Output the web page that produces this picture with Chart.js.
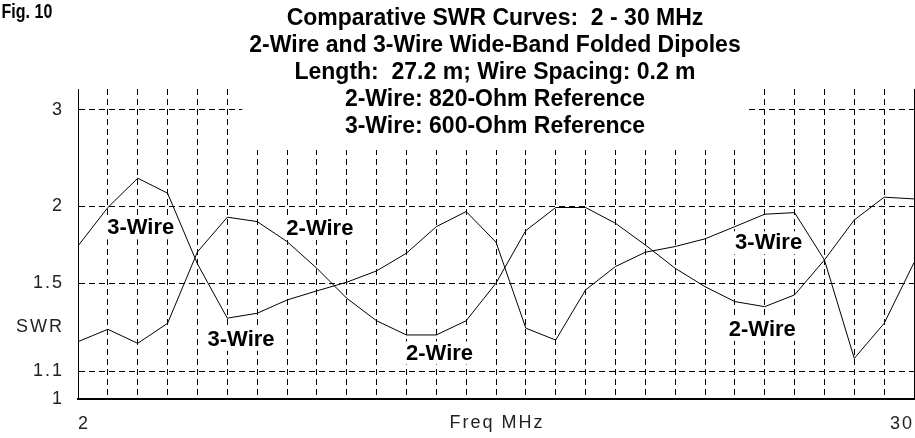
<!DOCTYPE html>
<html>
<head>
<meta charset="utf-8">
<script src="https://cdn.jsdelivr.net/npm/chart.js@4/dist/chart.umd.min.js"></script>
<style>
  html, body { margin: 0; padding: 0; background: #fff; }
  #wrap { width: 915px; height: 438px; position: relative; }
</style>
</head>
<body>
<div id="wrap"><canvas id="swrChart"></canvas></div>
<script>
// frequencies in MHz, one point per MHz
const freqs = [2, 3, 4, 5, 6, 7, 8, 9, 10, 11, 12, 13, 14, 15, 16, 17, 18, 19, 20, 21, 22, 23, 24, 25, 26, 27, 28, 29, 30];

const swr3Wire = [1.72, 1.99, 2.235, 2.105, 1.61, 1.325, 1.348, 1.413, 1.46, 1.506, 1.569, 1.674, 1.849, 1.959, 1.744,
  1.279, 1.227, 1.465, 1.594, 1.68, 1.716, 1.766, 1.849, 1.939, 1.951, 1.633, 1.151, 1.301, 1.617];

const swr2Wire = [1.22, 1.274, 1.213, 1.301, 1.682, 1.917, 1.885, 1.748, 1.584, 1.422, 1.313, 1.249, 1.249, 1.313, 1.501,
  1.822, 1.99, 1.99, 1.873, 1.726, 1.584, 1.482, 1.405, 1.38, 1.439, 1.633, 1.897, 2.072, 2.058];

const swrTicks = [1, 1.1, 1.5, 2, 3];
const freqTicks = [2, 30];

const titleLines = [
  "Comparative SWR Curves:  2 - 30 MHz",
  "2-Wire and 3-Wire Wide-Band Folded Dipoles",
  "Length:  27.2 m; Wire Spacing: 0.2 m",
  "2-Wire: 820-Ohm Reference",
  "3-Wire: 600-Ohm Reference",
];

// curve labels placed in data coordinates (MHz, SWR)
const labelTexts = ["3-Wire", "3-Wire", "2-Wire", "2-Wire", "3-Wire", "2-Wire"];
const labelFreqs = [4.1, 7.46, 10.1, 14.11, 25.13, 24.92];
const labelSwrs = [1.844, 1.232, 1.84, 1.175, 1.743, 1.276];

const FONT = "'Liberation Sans', Arial, sans-serif";

// the chart's vertical scale is linear in reflection coefficient
function toRho(s) {
  return (s - 1) / (s + 1);
}

function points(values) {
  return freqs.map((f, i) => ({ x: f, y: toRho(values[i]) }));
}

const overlay = {
  id: "overlay",
  beforeDraw(chart) {
    // the original axis text is spaced out a little
    chart.ctx.letterSpacing = "2px";
  },
  beforeDatasetsDraw(chart) {
    const { ctx, chartArea, scales } = chart;
    ctx.save();
    ctx.letterSpacing = "0px";

    // title block, its white box hides the grid behind it
    ctx.font = "bold 23px " + FONT;
    const maxW = Math.max(...titleLines.map((t) => ctx.measureText(t).width));
    const cx = (chartArea.left + chartArea.right) / 2 - 1;
    ctx.fillStyle = "#fff";
    ctx.fillRect(cx - maxW / 2 - 7, 0, maxW + 14, 150);
    ctx.fillStyle = "#000";
    ctx.textAlign = "center";
    ctx.textBaseline = "middle";
    titleLines.forEach((t, i) => ctx.fillText(t, cx, 19 + i * 27));

    // curve labels
    ctx.font = "bold 22px " + FONT;
    labelTexts.forEach((t, i) => {
      const px = scales.x.getPixelForValue(labelFreqs[i]);
      const py = scales.y.getPixelForValue(toRho(labelSwrs[i]));
      const w = ctx.measureText(t).width;
      ctx.fillStyle = "#fff";
      ctx.fillRect(px - w / 2 - 3, py - 11, w + 6, 23);
      ctx.fillStyle = "#000";
      ctx.fillText(t, px, py + 1);
    });

    // Fig. 10, narrow bold
    ctx.save();
    ctx.font = "bold 20px " + FONT;
    ctx.textAlign = "left";
    ctx.textBaseline = "top";
    ctx.scale(0.8, 1);
    ctx.fillText("Fig. 10", 2, 2);
    ctx.restore();

    // axis titles
    ctx.font = "18px " + FONT;
    ctx.letterSpacing = "2px";
    ctx.fillStyle = "#222";
    ctx.textBaseline = "middle";
    ctx.textAlign = "right";
    ctx.fillText("SWR", chartArea.left - 14, scales.y.getPixelForValue(toRho(1.285)));
    ctx.textAlign = "center";
    ctx.fillText("Freq MHz", (chartArea.left + chartArea.right) / 2 + 1, chartArea.bottom + 24);

    // solid right edge
    ctx.strokeStyle = "#000";
    ctx.lineWidth = 1;
    ctx.beginPath();
    ctx.moveTo(chartArea.right + 0.5, chartArea.top);
    ctx.lineTo(chartArea.right + 0.5, chartArea.bottom);
    ctx.stroke();

    ctx.restore();
  },
};

new Chart(document.getElementById("swrChart"), {
  type: "line",
  data: {
    datasets: [
      {
        label: "3-Wire",
        data: points(swr3Wire),
        borderColor: "#000",
        borderWidth: 1,
        pointRadius: 0,
        tension: 0,
      },
      {
        label: "2-Wire",
        data: points(swr2Wire),
        borderColor: "#000",
        borderWidth: 1,
        pointRadius: 0,
        tension: 0,
      },
    ],
  },
  options: {
    responsive: true,
    maintainAspectRatio: false,
    animation: false,
    events: [],
    layout: { padding: { top: 89, right: 1, left: 0, bottom: 0 } },
    plugins: {
      legend: { display: false },
      tooltip: { enabled: false },
    },
    scales: {
      x: {
        type: "linear",
        min: 2,
        max: 30,
        afterFit: (scale) => {
          scale.height = 39;
          scale.paddingLeft = 0;
          scale.paddingRight = 0;
        },
        ticks: {
          stepSize: 1,
          autoSkip: false,
          maxRotation: 0,
          align: "inner",
          padding: 14,
          color: "#222",
          font: { family: FONT, size: 18 },
          callback: (v) => (freqTicks.includes(v) ? String(v) : ""),
        },
        grid: { color: "#000", lineWidth: 1, drawTicks: false },
        border: { display: true, color: "#000", width: 2, dash: [6, 4] },
      },
      y: {
        type: "linear",
        min: 0,
        max: 0.536,
        afterFit: (scale) => {
          scale.width = 78;
          scale.paddingTop = 0;
          scale.paddingBottom = 0;
        },
        afterBuildTicks: (scale) => {
          scale.ticks = swrTicks.map((s) => ({ value: toRho(s) }));
        },
        ticks: {
          padding: 14,
          color: "#222",
          font: { family: FONT, size: 18 },
          callback: (v, i) => String(swrTicks[i]),
        },
        grid: { color: "#000", lineWidth: 1, drawTicks: false },
        border: { display: true, color: "#000", width: 1, dash: [6, 4] },
      },
    },
  },
  plugins: [overlay],
});
</script>
</body>
</html>
